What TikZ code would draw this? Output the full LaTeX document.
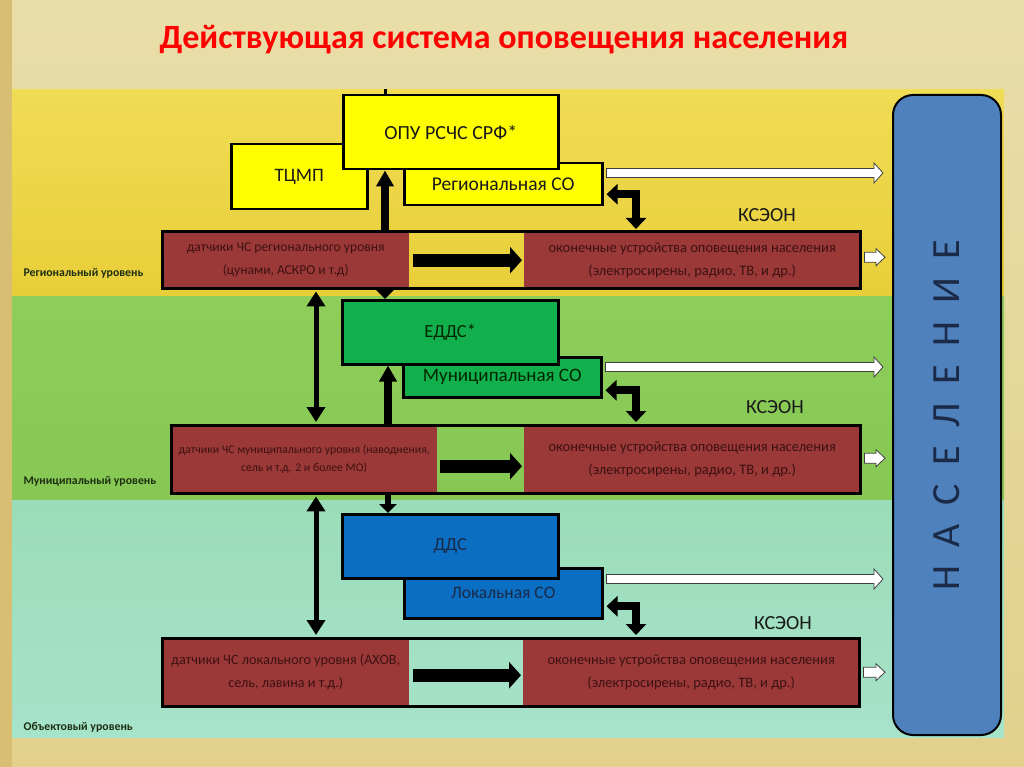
\documentclass[tikz,border=0pt]{standalone}
\usepackage{fontspec}
\setmainfont{Carlito}
\usetikzlibrary{arrows.meta,calc}
\definecolor{bgtop}{HTML}{E9DDA9}
\definecolor{bgbot}{HTML}{E2D08C}
\definecolor{strip}{HTML}{D8BE72}
\definecolor{yel1}{HTML}{F0DC55}
\definecolor{yel2}{HTML}{E8CE38}
\definecolor{grn1}{HTML}{8FCD5B}
\definecolor{grn2}{HTML}{86C853}
\definecolor{teal1}{HTML}{9BDCB8}
\definecolor{teal2}{HTML}{A6E3CB}
\definecolor{redbar}{HTML}{9B3838}
\definecolor{redtxt}{HTML}{3E1212}
\definecolor{yelbox}{HTML}{FFFF00}
\definecolor{grnbox}{HTML}{12B04C}
\definecolor{blubox}{HTML}{0A6FC2}
\definecolor{nasfill}{HTML}{4F81BD}
\definecolor{nastxt}{HTML}{1B2A47}
\definecolor{titlered}{HTML}{FF0000}
\definecolor{lvltxt}{HTML}{1E2E12}
\newcommand\myhollow[4]{% start, tip, shaft half, head half
  \draw[hollow] ($(#1)+(0,-#3)$) -- ($(#2)+(-9,-#3)$) -- ($(#2)+(-9,-#4)$) -- (#2)
    -- ($(#2)+(-9,#4)$) -- ($(#2)+(-9,#3)$) -- ($(#1)+(0,#3)$) -- cycle;}
\newcommand\nsp{\hspace{18.5pt}}
\newcommand\fs[1]{\fontsize{#1}{1.2\dimexpr#1pt\relax}\selectfont}
\begin{document}
\begin{tikzpicture}[x=1pt,y=-1pt,
  box/.style={draw=black, line width=2.5pt, inner sep=0pt, anchor=north west,
    font=\fs{19}, text=black!90},
  ybox/.style={box, fill=yelbox},
  gbox/.style={box, fill=grnbox, text=black!85!green},
  bbox/.style={box, fill=blubox, text=nastxt},
  redpart/.style={fill=redbar, inner sep=0pt, anchor=north west, align=center,
    text=redtxt, font=\fontsize{14.5}{23}\selectfont},
  frame/.style={draw=black, line width=3pt},
  vup/.style={line width=8pt, -{Triangle[length=16pt,width=17pt]}},
  vdown/.style={line width=6pt, -{Triangle[length=9pt,width=17pt]}},
  dbl/.style={line width=5pt, {Triangle[length=15pt,width=18pt]}-{Triangle[length=15pt,width=18pt]}, shorten <=3pt, shorten >=3pt},
  midarrow/.style={line width=13pt, -{Triangle[length=12pt,width=26pt]}},
  bent/.style={line width=8pt, {Triangle[length=11pt,width=20pt]}-{Triangle[length=11pt,width=20pt]}},
  hollow/.style={fill=white, draw=black!75, line width=0.8pt, line join=miter},
  ksen/.style={font=\fs{20}, text=black!90},
  level/.style={anchor=west, font=\fs{11.8}\bfseries, text=lvltxt}
]
\useasboundingbox (0,0) rectangle (1024,767);
% background
\shade[top color=bgtop, bottom color=bgbot] (0,0) rectangle (1024,767);
\fill[strip] (0,0) rectangle (12,767);
\shade[top color=yel1, bottom color=yel2] (12,90) rectangle (1004,296);
\shade[top color=grn1, bottom color=grn2] (12,296) rectangle (1004,500);
\shade[top color=teal1, bottom color=teal2] (12,500) rectangle (1004,737);

% title
\node[font=\fs{34}\bfseries, text=titlered] (title) at (504,40)
  {Действующая система оповещения населения};

% level labels
\node[level] (lv1) at (20,273) {Региональный уровень};
\node[level] (lv2) at (20,481) {Муниципальный уровень};
\node[level] (lv3) at (20,727) {Объектовый уровень};

% helper x positions
\coordinate (xa) at (385,0);
\coordinate (xb) at (316,0);
\coordinate (xc) at (388,0);

% ---------- regional level ----------
\node[ybox, minimum width=136, minimum height=65] (tcmp) at (230,143) {ТЦМП};
\node[ybox, minimum width=198, minimum height=42, font=\fs{19.5}] (rso) at (403,162) {Региональная СО};
\node[ybox, minimum width=215, minimum height=74, font=\fs{20}] (opu) at (342,94) {ОПУ РСЧС СРФ*};
\node[redpart, minimum width=247, minimum height=56, font=\fontsize{13.6}{23}\selectfont] (rs) at (162,232)
  {датчики ЧС регионального уровня\\(цунами, АСКРО и т.д)};
\node[redpart, minimum width=336, minimum height=56] (rd) at (524,232)
  {оконечные устройства оповещения населения\\(электросирены, радио, ТВ, и др.)};
\draw[frame] (rs.north west) rectangle (rd.south east);
\node[ksen] (k1) at (767,215) {КСЭОН};

% ---------- municipal level ----------
\node[gbox, minimum width=198, minimum height=40, font=\fs{19}] (mso) at (402,356) {Муниципальная СО};
\node[gbox, minimum width=216, minimum height=64, font=\fs{18.5}] (edds) at (341,299) {ЕДДС*};
\node[redpart, minimum width=266, minimum height=68, font=\fontsize{11.8}{18}\selectfont] (ms) at (171,425)
  {датчики ЧС муниципального уровня (наводнения,\\сель и т.д. 2 и более МО)};
\node[redpart, minimum width=336, minimum height=68] (md) at (524,425)
  {оконечные устройства оповещения населения\\(электросирены, радио, ТВ, и др.)};
\draw[frame] (ms.north west) rectangle (md.south east);
\node[ksen] (k2) at (775,407) {КСЭОН};

% ---------- local level ----------
\node[bbox, minimum width=198, minimum height=50, font=\fs{17.5}] (lso) at (403,567) {Локальная СО};
\node[bbox, minimum width=216, minimum height=64, font=\fs{18.5}] (dds) at (341,513) {ДДС};
\node[redpart, minimum width=247, minimum height=68, font=\fontsize{14.2}{23}\selectfont] (ls) at (162,638)
  {датчики ЧС локального уровня (АХОВ,\\сель, лавина и т.д.)};
\node[redpart, minimum width=336, minimum height=68] (ld) at (523,638)
  {оконечные устройства оповещения населения\\(электросирены, радио, ТВ, и др.)};
\draw[frame] (ls.north west) rectangle (ld.south east);
\node[ksen] (k3) at (783,623) {КСЭОН};

% ---------- population ----------
\node[draw=black, line width=2pt, fill=nasfill, rounded corners=20pt,
  minimum width=108, minimum height=640, inner sep=0pt] (nas) at (947,415)
  {\rotatebox{90}{\fontsize{40}{40}\selectfont\color{nastxt}Н\nsp А\nsp С\nsp Е\nsp Л\nsp Е\nsp Н\nsp И\nsp Е}};

% ---------- connectors ----------
% top stub
\coordinate (stub) at ($(opu.north -| xa)+(0,-5)$);
\draw[line width=3pt] (opu.north -| xa) -- (stub);
% regional
\draw[vup] (rs.north -| xa) -- (opu.south -| xa);
\draw[vdown] (rs.south -| xa) -- (edds.north -| xa);
\draw[dbl] (rs.south -| xb) -- (ms.north -| xb);
\draw[midarrow] ($(rs.east)+(4,0)$) -- ($(rd.west)+(-2,0)$);
\draw[bent] ($(rso.east)+(3,10)$) -| ($(rd.north west)+(112,-3)$);
% municipal
\draw[vup] (ms.north -| xc) -- (edds.south -| xc);
\draw[vdown] (ms.south -| xc) -- (dds.north -| xc);
\draw[dbl] (ms.south -| xb) -- (ls.north -| xb);
\draw[midarrow] ($(ms.east)+(3,7)$) -- ($(md.west)+(-2,7)$);
\draw[bent] ($(mso.east)+(3,13)$) -| ($(md.north west)+(112,-3)$);
% local
\draw[bent] ($(lso.east)+(3,13)$) -| ($(ld.north west)+(113,-3)$);
\draw[midarrow] ($(ls.east)+(4,3)$) -- ($(ld.west)+(-2,3)$);

% white arrows to population
\coordinate (w1s) at ($(rso.north east)+(3,11)$);
\coordinate (w1e) at ($(w1s -| nas.west)+(-9,0)$);
\myhollow{w1s}{w1e}{4.5}{10}
\coordinate (w2s) at ($(mso.north east)+(3,11)$);
\coordinate (w2e) at ($(w2s -| nas.west)+(-9,0)$);
\myhollow{w2s}{w2e}{4.5}{10}
\coordinate (w3s) at ($(lso.north east)+(3,12)$);
\coordinate (w3e) at ($(w3s -| nas.west)+(-9,0)$);
\myhollow{w3s}{w3e}{4.5}{10}
\coordinate (s1s) at ($(rd.east)+(4,-3)$);
\coordinate (s1e) at ($(s1s -| nas.west)+(-7,0)$);
\myhollow{s1s}{s1e}{5}{8.5}
\coordinate (s2s) at ($(md.east)+(4,-1)$);
\coordinate (s2e) at ($(s2s -| nas.west)+(-7,0)$);
\myhollow{s2s}{s2e}{5}{8.5}
\coordinate (s3s) at ($(ld.east)+(4,0)$);
\coordinate (s3e) at ($(s3s -| nas.west)+(-7,0)$);
\myhollow{s3s}{s3e}{5}{8.5}
\end{tikzpicture}
\end{document}
